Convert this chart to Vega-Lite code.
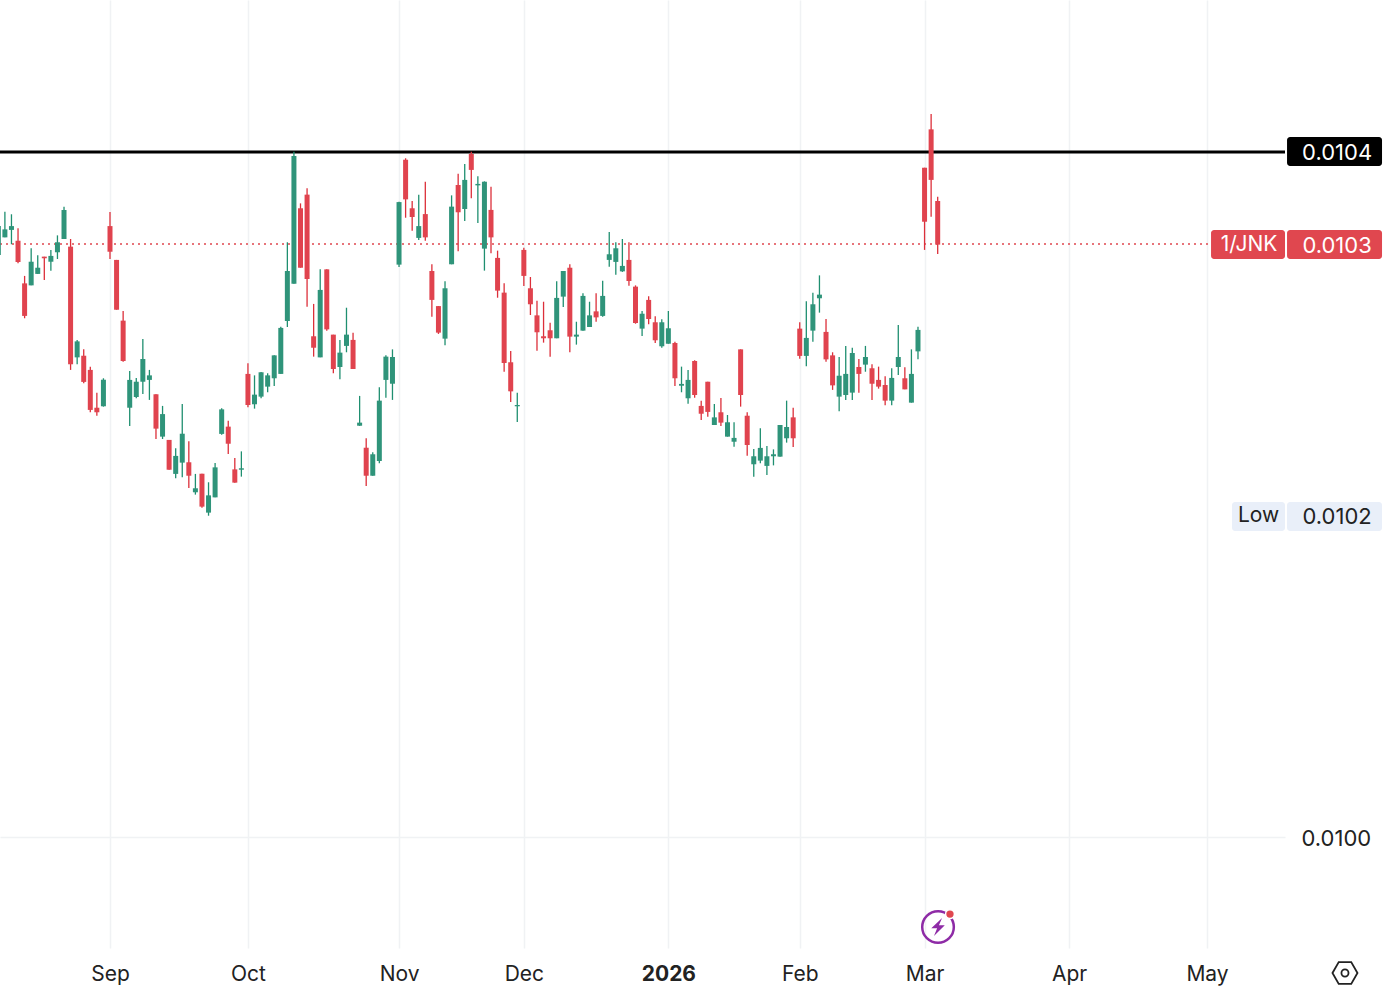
{"$schema":"https://vega.github.io/schema/vega-lite/v6.json","width":1285,"height":948,"autosize":{"type":"none"},"padding":{"left":0,"top":0,"right":115,"bottom":42},"background":"#ffffff","config":{"font":"Inter","view":{"stroke":null},"axis":{"domain":false,"ticks":false,"grid":true,"gridColor":"#f0f2f4","gridWidth":1.5,"labelColor":"#222222","title":null},"axisX":{"labelFontSize":21},"axisY":{"labelFontSize":22}},
"datasets":{"candles":[
{"idx":-17,"high":0.0103360,"low":0.0103201,"open":0.0103201,"close":0.0103360,"dir":"up"},
{"idx":-16,"high":0.0103439,"low":0.0103298,"open":0.0103298,"close":0.0103342,"dir":"up"},
{"idx":-15,"high":0.0103425,"low":0.0103260,"open":0.0103339,"close":0.0103360,"dir":"up"},
{"idx":-14,"high":0.0103348,"low":0.0103155,"open":0.0103280,"close":0.0103163,"dir":"down"},
{"idx":-13,"high":0.0103086,"low":0.0102853,"open":0.0103045,"close":0.0102866,"dir":"down"},
{"idx":-12,"high":0.0103238,"low":0.0103034,"open":0.0103034,"close":0.0103164,"dir":"up"},
{"idx":-11,"high":0.0103199,"low":0.0103097,"open":0.0103097,"close":0.0103131,"dir":"up"},
{"idx":-10,"high":0.0103192,"low":0.0103064,"open":0.0103192,"close":0.0103183,"dir":"down"},
{"idx":-9,"high":0.0103229,"low":0.0103115,"open":0.0103164,"close":0.0103196,"dir":"up"},
{"idx":-8,"high":0.0103309,"low":0.0103179,"open":0.0103216,"close":0.0103271,"dir":"up"},
{"idx":-7,"high":0.0103467,"low":0.0103289,"open":0.0103289,"close":0.0103449,"dir":"up"},
{"idx":-6,"high":0.0103289,"low":0.0102569,"open":0.0103247,"close":0.0102600,"dir":"down"},
{"idx":-5,"high":0.0102734,"low":0.0102600,"open":0.0102638,"close":0.0102726,"dir":"up"},
{"idx":-4,"high":0.0102682,"low":0.0102495,"open":0.0102647,"close":0.0102503,"dir":"down"},
{"idx":-3,"high":0.0102587,"low":0.0102336,"open":0.0102569,"close":0.0102349,"dir":"down"},
{"idx":-2,"high":0.0102444,"low":0.0102317,"open":0.0102361,"close":0.0102336,"dir":"down"},
{"idx":-1,"high":0.0102523,"low":0.0102367,"open":0.0102369,"close":0.0102515,"dir":"up"},
{"idx":0,"high":0.0103438,"low":0.0103179,"open":0.0103360,"close":0.0103219,"dir":"down"},
{"idx":1,"high":0.0103174,"low":0.0102900,"open":0.0103174,"close":0.0102900,"dir":"down"},
{"idx":2,"high":0.0102893,"low":0.0102614,"open":0.0102840,"close":0.0102618,"dir":"down"},
{"idx":3,"high":0.0102563,"low":0.0102261,"open":0.0102361,"close":0.0102514,"dir":"up"},
{"idx":4,"high":0.0102525,"low":0.0102413,"open":0.0102420,"close":0.0102504,"dir":"up"},
{"idx":5,"high":0.0102739,"low":0.0102437,"open":0.0102504,"close":0.0102629,"dir":"up"},
{"idx":6,"high":0.0102569,"low":0.0102404,"open":0.0102514,"close":0.0102539,"dir":"up"},
{"idx":7,"high":0.0102435,"low":0.0102189,"open":0.0102435,"close":0.0102246,"dir":"down"},
{"idx":8,"high":0.0102371,"low":0.0102189,"open":0.0102202,"close":0.0102326,"dir":"up"},
{"idx":9,"high":0.0102184,"low":0.0102020,"open":0.0102184,"close":0.0102020,"dir":"down"},
{"idx":10,"high":0.0102138,"low":0.0101973,"open":0.0101997,"close":0.0102096,"dir":"up"},
{"idx":11,"high":0.0102382,"low":0.0101978,"open":0.0102059,"close":0.0102218,"dir":"up"},
{"idx":12,"high":0.0102176,"low":0.0101920,"open":0.0102061,"close":0.0101987,"dir":"down"},
{"idx":13,"high":0.0101997,"low":0.0101883,"open":0.0101896,"close":0.0101918,"dir":"up"},
{"idx":14,"high":0.0101998,"low":0.0101811,"open":0.0101998,"close":0.0101817,"dir":"down"},
{"idx":15,"high":0.0101951,"low":0.0101767,"open":0.0101784,"close":0.0101879,"dir":"up"},
{"idx":16,"high":0.0102057,"low":0.0101868,"open":0.0101868,"close":0.0102033,"dir":"up"},
{"idx":17,"high":0.0102358,"low":0.0102213,"open":0.0102217,"close":0.0102352,"dir":"up"},
{"idx":18,"high":0.0102290,"low":0.0102107,"open":0.0102257,"close":0.0102163,"dir":"down"},
{"idx":19,"high":0.0102085,"low":0.0101949,"open":0.0102022,"close":0.0101949,"dir":"down"},
{"idx":20,"high":0.0102121,"low":0.0101982,"open":0.0102020,"close":0.0102028,"dir":"up"},
{"idx":21,"high":0.0102605,"low":0.0102363,"open":0.0102547,"close":0.0102376,"dir":"down"},
{"idx":22,"high":0.0102539,"low":0.0102356,"open":0.0102380,"close":0.0102433,"dir":"up"},
{"idx":23,"high":0.0102558,"low":0.0102413,"open":0.0102422,"close":0.0102556,"dir":"up"},
{"idx":24,"high":0.0102550,"low":0.0102446,"open":0.0102477,"close":0.0102539,"dir":"up"},
{"idx":25,"high":0.0102649,"low":0.0102481,"open":0.0102523,"close":0.0102649,"dir":"up"},
{"idx":26,"high":0.0102807,"low":0.0102547,"open":0.0102547,"close":0.0102800,"dir":"up"},
{"idx":27,"high":0.0103271,"low":0.0102805,"open":0.0102838,"close":0.0103113,"dir":"up"},
{"idx":28,"high":0.0103769,"low":0.0103043,"open":0.0103043,"close":0.0103746,"dir":"up"},
{"idx":29,"high":0.0103485,"low":0.0103131,"open":0.0103458,"close":0.0103131,"dir":"down"},
{"idx":30,"high":0.0103568,"low":0.0102917,"open":0.0103533,"close":0.0103069,"dir":"down"},
{"idx":31,"high":0.0102932,"low":0.0102642,"open":0.0102754,"close":0.0102691,"dir":"down"},
{"idx":32,"high":0.0103122,"low":0.0102638,"open":0.0102638,"close":0.0103009,"dir":"up"},
{"idx":33,"high":0.0103122,"low":0.0102785,"open":0.0103122,"close":0.0102792,"dir":"down"},
{"idx":34,"high":0.0102763,"low":0.0102550,"open":0.0102763,"close":0.0102574,"dir":"down"},
{"idx":35,"high":0.0102734,"low":0.0102517,"open":0.0102585,"close":0.0102664,"dir":"up"},
{"idx":36,"high":0.0102911,"low":0.0102666,"open":0.0102701,"close":0.0102763,"dir":"up"},
{"idx":37,"high":0.0102774,"low":0.0102574,"open":0.0102734,"close":0.0102574,"dir":"down"},
{"idx":38,"high":0.0102426,"low":0.0102261,"open":0.0102262,"close":0.0102279,"dir":"up"},
{"idx":39,"high":0.0102193,"low":0.0101930,"open":0.0102141,"close":0.0101987,"dir":"down"},
{"idx":40,"high":0.0102116,"low":0.0101987,"open":0.0101987,"close":0.0102105,"dir":"up"},
{"idx":41,"high":0.0102473,"low":0.0102055,"open":0.0102068,"close":0.0102400,"dir":"up"},
{"idx":42,"high":0.0102649,"low":0.0102416,"open":0.0102514,"close":0.0102642,"dir":"up"},
{"idx":43,"high":0.0102682,"low":0.0102404,"open":0.0102493,"close":0.0102640,"dir":"up"},
{"idx":44,"high":0.0103494,"low":0.0103135,"open":0.0103148,"close":0.0103492,"dir":"up"},
{"idx":45,"high":0.0103733,"low":0.0103406,"open":0.0103725,"close":0.0103507,"dir":"down"},
{"idx":46,"high":0.0103498,"low":0.0103335,"open":0.0103458,"close":0.0103410,"dir":"down"},
{"idx":47,"high":0.0103533,"low":0.0103284,"open":0.0103295,"close":0.0103360,"dir":"up"},
{"idx":48,"high":0.0103604,"low":0.0103280,"open":0.0103426,"close":0.0103298,"dir":"down"},
{"idx":49,"high":0.0103150,"low":0.0102862,"open":0.0103113,"close":0.0102954,"dir":"down"},
{"idx":50,"high":0.0102920,"low":0.0102767,"open":0.0102920,"close":0.0102774,"dir":"down"},
{"idx":51,"high":0.0103056,"low":0.0102704,"open":0.0102741,"close":0.0103018,"dir":"up"},
{"idx":52,"high":0.0103529,"low":0.0103150,"open":0.0103150,"close":0.0103467,"dir":"up"},
{"idx":53,"high":0.0103648,"low":0.0103221,"open":0.0103586,"close":0.0103436,"dir":"down"},
{"idx":54,"high":0.0103702,"low":0.0103388,"open":0.0103454,"close":0.0103614,"dir":"up"},
{"idx":55,"high":0.0103769,"low":0.0103513,"open":0.0103757,"close":0.0103669,"dir":"down"},
{"idx":56,"high":0.0103634,"low":0.0103377,"open":0.0103584,"close":0.0103592,"dir":"up"},
{"idx":57,"high":0.0103606,"low":0.0103115,"open":0.0103236,"close":0.0103604,"dir":"up"},
{"idx":58,"high":0.0103577,"low":0.0103210,"open":0.0103449,"close":0.0103298,"dir":"down"},
{"idx":59,"high":0.0103225,"low":0.0102966,"open":0.0103185,"close":0.0103005,"dir":"down"},
{"idx":60,"high":0.0103045,"low":0.0102559,"open":0.0102994,"close":0.0102607,"dir":"down"},
{"idx":61,"high":0.0102673,"low":0.0102393,"open":0.0102611,"close":0.0102451,"dir":"down"},
{"idx":62,"high":0.0102444,"low":0.0102283,"open":0.0102369,"close":0.0102376,"dir":"up"},
{"idx":63,"high":0.0103241,"low":0.0103031,"open":0.0103229,"close":0.0103086,"dir":"down"},
{"idx":64,"high":0.0103080,"low":0.0102871,"open":0.0103018,"close":0.0102930,"dir":"down"},
{"idx":65,"high":0.0102950,"low":0.0102675,"open":0.0102869,"close":0.0102776,"dir":"down"},
{"idx":66,"high":0.0102944,"low":0.0102719,"open":0.0102754,"close":0.0102743,"dir":"down"},
{"idx":67,"high":0.0102829,"low":0.0102642,"open":0.0102787,"close":0.0102743,"dir":"down"},
{"idx":68,"high":0.0103056,"low":0.0102743,"open":0.0102743,"close":0.0102965,"dir":"up"},
{"idx":69,"high":0.0103113,"low":0.0102915,"open":0.0102972,"close":0.0103113,"dir":"up"},
{"idx":70,"high":0.0103150,"low":0.0102666,"open":0.0103131,"close":0.0102752,"dir":"down"},
{"idx":71,"high":0.0102834,"low":0.0102708,"open":0.0102752,"close":0.0102763,"dir":"up"},
{"idx":72,"high":0.0102990,"low":0.0102785,"open":0.0102785,"close":0.0102976,"dir":"up"},
{"idx":73,"high":0.0102944,"low":0.0102805,"open":0.0102805,"close":0.0102869,"dir":"up"},
{"idx":74,"high":0.0102990,"low":0.0102834,"open":0.0102891,"close":0.0102858,"dir":"down"},
{"idx":75,"high":0.0103060,"low":0.0102862,"open":0.0102866,"close":0.0102976,"dir":"up"},
{"idx":76,"high":0.0103328,"low":0.0103137,"open":0.0103174,"close":0.0103205,"dir":"up"},
{"idx":77,"high":0.0103271,"low":0.0103093,"open":0.0103163,"close":0.0103238,"dir":"up"},
{"idx":78,"high":0.0103289,"low":0.0103108,"open":0.0103111,"close":0.0103141,"dir":"up"},
{"idx":79,"high":0.0103271,"low":0.0103032,"open":0.0103174,"close":0.0103058,"dir":"down"},
{"idx":80,"high":0.0103034,"low":0.0102823,"open":0.0103027,"close":0.0102827,"dir":"down"},
{"idx":81,"high":0.0102893,"low":0.0102756,"open":0.0102796,"close":0.0102878,"dir":"up"},
{"idx":82,"high":0.0102974,"low":0.0102820,"open":0.0102954,"close":0.0102849,"dir":"down"},
{"idx":83,"high":0.0102864,"low":0.0102717,"open":0.0102831,"close":0.0102732,"dir":"down"},
{"idx":84,"high":0.0102847,"low":0.0102691,"open":0.0102699,"close":0.0102831,"dir":"up"},
{"idx":85,"high":0.0102893,"low":0.0102713,"open":0.0102713,"close":0.0102798,"dir":"up"},
{"idx":86,"high":0.0102724,"low":0.0102481,"open":0.0102717,"close":0.0102523,"dir":"down"},
{"idx":87,"high":0.0102587,"low":0.0102446,"open":0.0102482,"close":0.0102492,"dir":"up"},
{"idx":88,"high":0.0102569,"low":0.0102383,"open":0.0102413,"close":0.0102514,"dir":"up"},
{"idx":89,"high":0.0102622,"low":0.0102416,"open":0.0102618,"close":0.0102431,"dir":"down"},
{"idx":90,"high":0.0102400,"low":0.0102294,"open":0.0102371,"close":0.0102328,"dir":"down"},
{"idx":91,"high":0.0102504,"low":0.0102312,"open":0.0102504,"close":0.0102338,"dir":"down"},
{"idx":92,"high":0.0102382,"low":0.0102266,"open":0.0102266,"close":0.0102308,"dir":"up"},
{"idx":93,"high":0.0102415,"low":0.0102261,"open":0.0102336,"close":0.0102279,"dir":"down"},
{"idx":94,"high":0.0102321,"low":0.0102202,"open":0.0102202,"close":0.0102281,"dir":"up"},
{"idx":95,"high":0.0102281,"low":0.0102147,"open":0.0102174,"close":0.0102195,"dir":"up"},
{"idx":96,"high":0.0102682,"low":0.0102367,"open":0.0102682,"close":0.0102431,"dir":"down"},
{"idx":97,"high":0.0102336,"low":0.0102097,"open":0.0102317,"close":0.0102156,"dir":"down"},
{"idx":98,"high":0.0102134,"low":0.0101982,"open":0.0102050,"close":0.0102094,"dir":"up"},
{"idx":99,"high":0.0102248,"low":0.0102055,"open":0.0102070,"close":0.0102140,"dir":"up"},
{"idx":100,"high":0.0102151,"low":0.0101991,"open":0.0102041,"close":0.0102094,"dir":"up"},
{"idx":101,"high":0.0102132,"low":0.0102044,"open":0.0102094,"close":0.0102105,"dir":"up"},
{"idx":102,"high":0.0102266,"low":0.0102092,"open":0.0102092,"close":0.0102266,"dir":"up"},
{"idx":103,"high":0.0102400,"low":0.0102169,"open":0.0102193,"close":0.0102255,"dir":"up"},
{"idx":104,"high":0.0102361,"low":0.0102145,"open":0.0102308,"close":0.0102193,"dir":"down"},
{"idx":105,"high":0.0102831,"low":0.0102631,"open":0.0102796,"close":0.0102646,"dir":"down"},
{"idx":106,"high":0.0102946,"low":0.0102589,"open":0.0102646,"close":0.0102745,"dir":"up"},
{"idx":107,"high":0.0102994,"low":0.0102724,"open":0.0102785,"close":0.0102930,"dir":"up"},
{"idx":108,"high":0.0103089,"low":0.0102884,"open":0.0102963,"close":0.0102983,"dir":"up"},
{"idx":109,"high":0.0102849,"low":0.0102614,"open":0.0102778,"close":0.0102627,"dir":"down"},
{"idx":110,"high":0.0102666,"low":0.0102459,"open":0.0102649,"close":0.0102484,"dir":"down"},
{"idx":111,"high":0.0102640,"low":0.0102341,"open":0.0102422,"close":0.0102537,"dir":"up"},
{"idx":112,"high":0.0102701,"low":0.0102404,"open":0.0102431,"close":0.0102547,"dir":"up"},
{"idx":113,"high":0.0102691,"low":0.0102404,"open":0.0102444,"close":0.0102662,"dir":"up"},
{"idx":114,"high":0.0102629,"low":0.0102444,"open":0.0102585,"close":0.0102547,"dir":"down"},
{"idx":115,"high":0.0102701,"low":0.0102559,"open":0.0102598,"close":0.0102640,"dir":"up"},
{"idx":116,"high":0.0102600,"low":0.0102404,"open":0.0102578,"close":0.0102493,"dir":"down"},
{"idx":117,"high":0.0102587,"low":0.0102466,"open":0.0102514,"close":0.0102477,"dir":"down"},
{"idx":118,"high":0.0102534,"low":0.0102374,"open":0.0102486,"close":0.0102400,"dir":"down"},
{"idx":119,"high":0.0102578,"low":0.0102374,"open":0.0102400,"close":0.0102525,"dir":"up"},
{"idx":120,"high":0.0102816,"low":0.0102541,"open":0.0102585,"close":0.0102640,"dir":"up"},
{"idx":121,"high":0.0102583,"low":0.0102462,"open":0.0102523,"close":0.0102462,"dir":"down"},
{"idx":122,"high":0.0102682,"low":0.0102389,"open":0.0102389,"close":0.0102547,"dir":"up"},
{"idx":123,"high":0.0102807,"low":0.0102627,"open":0.0102671,"close":0.0102789,"dir":"up"},
{"idx":124,"high":0.0103681,"low":0.0103229,"open":0.0103681,"close":0.0103384,"dir":"down"},
{"idx":125,"high":0.0103977,"low":0.0103412,"open":0.0103892,"close":0.0103614,"dir":"down"},
{"idx":126,"high":0.0103522,"low":0.0103207,"open":0.0103498,"close":0.0103258,"dir":"down"}
],
"tags":[
{"label":"0.0104","price":0.0103767,"top":0.0103850,"bottom":0.0103690,"kind":"resistance"},
{"label":"0.0103","price":0.0103258,"top":0.0103339,"bottom":0.0103179,"kind":"last"},
{"label":"0.0102","price":0.0101763,"top":0.0101843,"bottom":0.0101683,"kind":"low"}
],
"names":[
{"label":"1/JNK","from":167.61,"at":173.4,"price":0.0103258,"top":0.0103339,"bottom":0.0103179,"kind":"last"},
{"label":"Low","from":170.8,"at":174.85,"price":0.0101763,"top":0.0101843,"bottom":0.0101683,"kind":"low"}
]},
"layer":[
{"data":{"values":[{"price":0.0103262}]},"mark":{"type":"rule","color":"#e0474f","strokeWidth":1.5,"strokeDash":[2,4]},"encoding":{"y":{"field":"price","type":"quantitative","title":null,"scale":{"domain":[0.00993895,0.01046035],"nice":false,"zero":false,"padding":0},"axis":{"orient":"right","values":[0.01],"format":".4f","labelPadding":16,"labelOffset":1,"title":null}},"x":{"datum":-16.745,"type":"quantitative","scale":{"domain":[-16.745,178.87],"nice":false,"zero":false,"padding":0},"title":null,"axis":{"values":[0,21,44,63,85,105,124,146,167],"labelExpr":"{'0':'Sep','21':'Oct','44':'Nov','63':'Dec','85':'2026','105':'Feb','124':'Mar','146':'Apr','167':'May'}[datum.value]","labelFontWeight":{"expr":"datum.value == 85 ? 'bold' : 'normal'"},"labelPadding":15,"labelFlush":false,"title":null}},"x2":{"datum":167.45}}},
{"data":{"values":[{"price":0.0103767}]},"mark":{"type":"rule","color":"#000000","strokeWidth":3},"encoding":{"x":{"datum":-16.745,"type":"quantitative","title":null},"x2":{"datum":178.87},"y":{"field":"price","type":"quantitative","title":null}}},
{"data":{"name":"candles"},"mark":{"type":"rule","strokeWidth":1.3},"encoding":{"x":{"field":"idx","type":"quantitative","title":null},"y":{"field":"high","type":"quantitative","title":null},"y2":{"field":"low"},"color":{"field":"dir","type":"nominal","legend":null,"scale":{"domain":["up","down"],"range":["#1f8f70","#dc2f3a"]}}}},
{"data":{"name":"candles"},"mark":{"type":"bar","width":5},"encoding":{"x":{"field":"idx","type":"quantitative","title":null},"y":{"field":"open","type":"quantitative","title":null},"y2":{"field":"close"},"color":{"field":"dir","type":"nominal","legend":null,"scale":{"domain":["up","down"],"range":["#2f947a","#e0434e"]}}}},
{"data":{"name":"tags"},"mark":{"type":"rect","cornerRadius":3},"encoding":{"x":{"datum":179.18,"type":"quantitative","title":null},"x2":{"datum":193.64},"y":{"field":"top","type":"quantitative","title":null},"y2":{"field":"bottom"},"color":{"field":"kind","type":"nominal","legend":null,"scale":{"domain":["resistance","last","low"],"range":["#000000","#e0474f","#e9eff9"]}}}},
{"data":{"name":"names"},"mark":{"type":"rect","cornerRadius":3},"encoding":{"x":{"field":"from","type":"quantitative","title":null},"x2":{"datum":178.87},"y":{"field":"top","type":"quantitative","title":null},"y2":{"field":"bottom"},"color":{"field":"kind","type":"nominal","legend":null,"scale":{"domain":["resistance","last","low"],"range":["#000000","#e0474f","#e9eff9"]}}}},
{"data":{"name":"tags"},"mark":{"type":"text","fontSize":22,"align":"center","baseline":"middle","dy":1},"encoding":{"x":{"datum":186.8,"type":"quantitative","title":null},"y":{"field":"price","type":"quantitative","title":null},"text":{"field":"label"},"color":{"field":"kind","type":"nominal","legend":null,"scale":{"domain":["resistance","last","low"],"range":["#ffffff","#ffffff","#222222"]}}}},
{"data":{"name":"names"},"mark":{"type":"text","fontSize":21,"align":"center","baseline":"middle"},"encoding":{"x":{"field":"at","type":"quantitative","title":null},"y":{"field":"price","type":"quantitative","title":null},"text":{"field":"label"},"color":{"field":"kind","type":"nominal","legend":null,"scale":{"domain":["resistance","last","low"],"range":["#ffffff","#ffffff","#222222"]}}}},
{"data":{"values":[{"idx":126.05,"price":0.0099505}]},"mark":{"type":"point","shape":"circle","filled":false,"size":1000,"stroke":"#8e2ba6","strokeWidth":2.5,"opacity":1},"encoding":{"x":{"field":"idx","type":"quantitative","title":null},"y":{"field":"price","type":"quantitative","title":null}}},
{"data":{"values":[{"idx":126.05,"price":0.0099505}]},"mark":{"type":"point","shape":"M0.45,-1 L-0.75,0.15 L-0.1,0.15 L-0.45,1 L0.75,-0.2 L0.1,-0.2 Z","filled":true,"size":324,"fill":"#8e2ba6","opacity":1},"encoding":{"x":{"field":"idx","type":"quantitative","title":null},"y":{"field":"price","type":"quantitative","title":null}}},
{"data":{"values":[{"idx":127.87,"price":0.0099576}]},"mark":{"type":"point","shape":"circle","filled":true,"size":78,"fill":"#e0474f","stroke":"#ffffff","strokeWidth":1.5,"opacity":1},"encoding":{"x":{"field":"idx","type":"quantitative","title":null},"y":{"field":"price","type":"quantitative","title":null}}},
{"data":{"values":[{"idx":188.0,"price":0.0099252}]},"mark":{"type":"point","shape":"M-1,0 L-0.5,-0.87 L0.5,-0.87 L1,0 L0.5,0.87 L-0.5,0.87 Z","filled":false,"size":625,"stroke":"#222222","strokeWidth":1.8,"opacity":1},"encoding":{"x":{"field":"idx","type":"quantitative","title":null},"y":{"field":"price","type":"quantitative","title":null}}},
{"data":{"values":[{"idx":188.0,"price":0.0099252}]},"mark":{"type":"point","shape":"circle","filled":false,"size":50,"stroke":"#222222","strokeWidth":1.8,"opacity":1},"encoding":{"x":{"field":"idx","type":"quantitative","title":null},"y":{"field":"price","type":"quantitative","title":null}}}
],
"resolve":{"scale":{"color":"independent"}}}
